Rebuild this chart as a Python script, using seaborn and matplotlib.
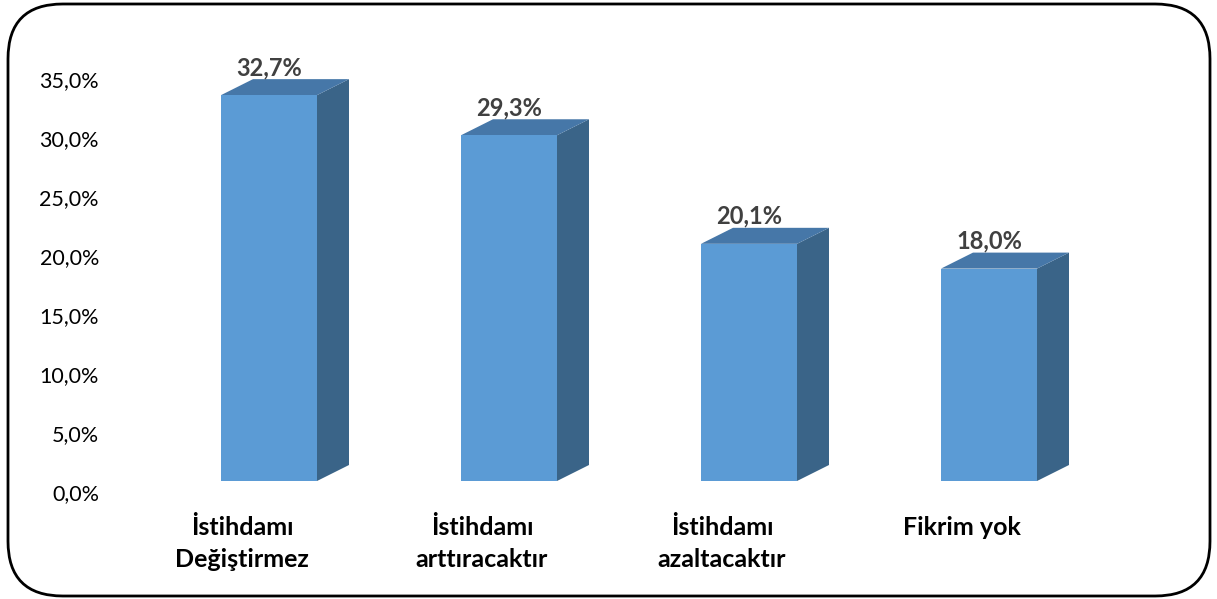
import numpy as np
import pandas as pd
import matplotlib
matplotlib.use('Agg')
import matplotlib.pyplot as plt
import matplotlib.transforms as mtransforms
from matplotlib.patches import Polygon, FancyBboxPatch
import seaborn as sns

# Data
categories = ['İstihdamı\nDeğiştirmez', 'İstihdamı\narttıracaktır',
              'İstihdamı\nazaltacaktır', 'Fikrim yok']
values = [32.7, 29.3, 20.1, 18.0]
yticks = [0, 5, 10, 15, 20, 25, 30, 35]

front_color = '#5B9BD5'
side_color = '#3A6488'
top_color = '#4677A8'

sns.set_theme(style='white')
plt.rcParams['font.family'] = ['Lato', 'DejaVu Sans']

fig = plt.figure(figsize=(12.17, 5.99), dpi=100)
ax = fig.add_axes([149 / 1217, 118 / 599, 960 / 1217, 413 / 599])

df = pd.DataFrame({'category': categories, 'value': values})
sns.barplot(data=df, x='category', y='value', color=front_color,
            width=0.4, saturation=1, ax=ax, zorder=3)

# fake 3D depth (side + top faces)
dx = 32 / 240
dy = 16 / 11.8
for p in ax.patches[:len(values)]:
    p.set_edgecolor('none')
    x0, w, h = p.get_x(), p.get_width(), p.get_height()
    side = Polygon([(x0 + w, 0), (x0 + w + dx, dy), (x0 + w + dx, h + dy), (x0 + w, h)],
                   closed=True, facecolor=side_color, edgecolor='none', zorder=2)
    top = Polygon([(x0, h), (x0 + dx, h + dy), (x0 + w + dx, h + dy), (x0 + w, h)],
                  closed=True, facecolor=top_color, edgecolor='none', zorder=2)
    ax.add_patch(side)
    ax.add_patch(top)
    ax.text(x0 + w / 2, h + dy, f'{h:.1f}%'.replace('.', ','),
            ha='center', va='bottom', fontsize=17, fontweight='bold',
            color='#404040', clip_on=False)

ax.set_xlim(-0.5, 3.5)
ax.set_ylim(0, 35)
ax.set_yticks(yticks)
ax.set_yticklabels([f'{t:.1f}%'.replace('.', ',') for t in yticks], fontsize=15.5)
ax.set_xlabel('')
ax.set_ylabel('')
ax.tick_params(axis='y', length=0, pad=36)
ax.tick_params(axis='x', length=0, pad=25)
for lab in ax.get_xticklabels():
    lab.set_fontweight('bold')
    lab.set_fontsize(18)
    lab.set_color('black')
    lab.set_linespacing(1.5)
    lab.set_transform(lab.get_transform() + mtransforms.ScaledTranslation(-27 / 100, 0, fig.dpi_scale_trans))
for lab in ax.get_yticklabels():
    lab.set_color('black')
    lab.set_transform(lab.get_transform() + mtransforms.ScaledTranslation(0, -11 / 100, fig.dpi_scale_trans))
sns.despine(ax=ax, left=True, bottom=True)

# rounded frame around the chart
frame = FancyBboxPatch((8 / 1217, 3 / 599), 1202 / 1217, 592 / 599,
                       boxstyle='round,pad=0,rounding_size=0.045',
                       transform=fig.transFigure, facecolor='none',
                       edgecolor='black', linewidth=2, mutation_aspect=1217 / 599)
fig.patches.append(frame)

fig.savefig('out.png', dpi=100)
